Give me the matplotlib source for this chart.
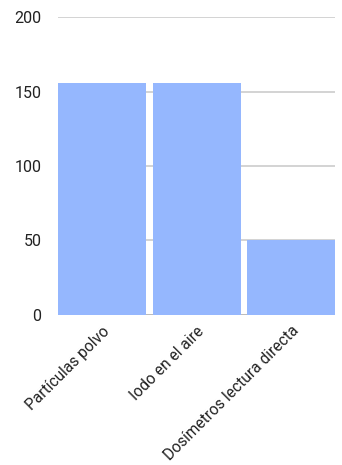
import matplotlib.pyplot as plt

categorias = ['Partículas polvo', 'Iodo en el aire', 'Dosímetros lectura directa']
valores = [156, 156, 50]
yticks = [0, 50, 100, 150, 200]

plt.rcParams['font.family'] = ['Roboto', 'DejaVu Sans']

fig = plt.figure(figsize=(3.42, 4.65), dpi=100)
ax = fig.add_axes([0.170, 0.3226, 0.810, 0.6408])

x = range(len(categorias))
ancho = 0.93
ax.bar(x, valores, width=ancho, color='#95b7fe', zorder=3)

# barras pegadas a los bordes del area
ax.set_xlim(-ancho / 2, len(categorias) - 1 + ancho / 2)
ax.set_ylim(0, 200)
ax.set_yticks(yticks)
ax.set_yticklabels([str(v) for v in yticks])
ax.yaxis.grid(True, color='#cccccc', linewidth=1.2, zorder=0)
ax.axhline(0, color='#555555', linewidth=1.2, zorder=1)

ax.set_xticks(list(x))
ax.set_xticklabels(categorias, rotation=45, ha='right', rotation_mode='anchor')

for s in ax.spines.values():
    s.set_visible(False)
ax.tick_params(axis='both', length=0, colors='#222222')
ax.tick_params(axis='y', pad=12, labelsize=11.5)
ax.tick_params(axis='x', pad=6, labelsize=11.2)

fig.savefig('out.png', dpi=100)
